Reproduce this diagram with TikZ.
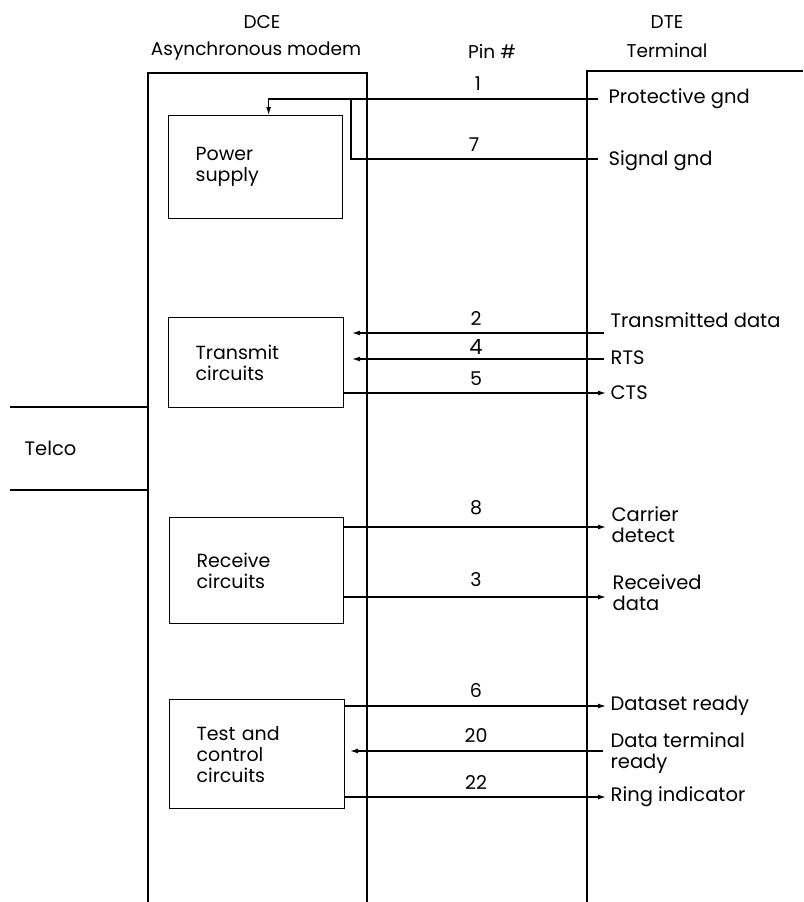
\documentclass[tikz,border=0pt]{standalone}
\usepackage{fontspec}
\setmainfont{Poppins}
\usetikzlibrary{arrows.meta}
\begin{document}
\begin{tikzpicture}[x=1pt,y=-1pt,line width=1.3pt,
    blk/.style={draw,anchor=north west,align=left,inner xsep=27pt,inner ysep=0pt,font=\fontsize{19}{21}\selectfont},
    sig/.style={-{Latex[length=8pt,width=5pt]}},
    pin/.style={font=\fontsize{19}{20}\selectfont},
    head/.style={font=\fontsize{18.5}{20}\selectfont},
    lbl/.style={anchor=west,align=left,inner sep=0pt,font=\fontsize{19.5}{21}\selectfont}]
    \useasboundingbox (0,0) rectangle (803,902);

    % headings
    \node[head] (dce) at (262,22) {DCE};
    \node[head] (modem) at (256,51) {Asynchronous modem};
    \node[head] (pins) at (492,51) {Pin \#};
    \node[head] (dte) at (667,22) {DTE};
    \node[head] (term) at (667,51) {Terminal};

    % modem and terminal outlines
    \draw (148,902) -- (148,73) -- (367,73) -- (367,902);
    \draw (587,902) -- (587,71) -- (803,71);

    % telco line
    \draw (10,407) -- (148,407);
    \draw (10,490) -- (148,490);
    \node[lbl] (telco) at (24,448) {Telco};

    % blocks
    \node[blk,minimum width=174,minimum height=103,text width=120] (psu) at (168,115) {Power\\supply};
    \node[blk,minimum width=175,minimum height=90,text width=121] (tx) at (168,317) {Transmit\\circuits\\[-12pt]};
    \node[blk,minimum width=174,minimum height=106,text width=120] (rx) at (169,517) {Receive\\circuits};
    \node[blk,minimum width=175,minimum height=109,text width=121] (tc) at (169,699) {Test and\\control\\circuits};

    % terminal side
    \node[lbl] (pgnd) at (608,99) {Protective gnd};
    \node[lbl] (sgnd) at (608,161) {Signal gnd};
    \node[lbl] (txd) at (610,320) {Transmitted data};
    \node[lbl] (rts) at (610,358) {RTS};
    \node[lbl] (cts) at (610,393) {CTS};
    \node[lbl] (cd) at (611,525) {Carrier\\detect};
    \node[lbl] (rxd) at (612,593) {Received\\data};
    \node[lbl] (dsr) at (610,706) {Dataset ready};
    \node[lbl] (dtr) at (610,753) {Data terminal\\ready};
    \node[lbl] (ri) at (610,797) {Ring indicator};

    % ground wiring
    \coordinate (e1) at (598,99);
    \coordinate (e7) at (598,159);
    \coordinate (j1) at (351,99);
    \draw[sig] (e1) -| ([xshift=13pt]psu.north);
    \draw (e7) -| (j1);

    % signal ends
    \coordinate (e2) at (604,333);
    \coordinate (e4) at (604,359);
    \coordinate (a2) at (352,333);
    \coordinate (a4) at (352,359);
    \coordinate (e5) at (606,393);
    \coordinate (e8) at (606,527);
    \coordinate (e3) at (606,597);
    \coordinate (e6) at (606,706);
    \coordinate (e20) at (603,751);
    \coordinate (a20) at (350,751);
    \coordinate (e22) at (606,797);

    \draw[sig] (e2) -- (a2);
    \draw[sig] (e4) -- (a4);
    \draw[sig] (tx.east |- e5) -- (e5);
    \draw[sig] (rx.east |- e8) -- (e8);
    \draw[sig] (rx.east |- e3) -- (e3);
    \draw[sig] (tc.east |- e6) -- (e6);
    \draw[sig] (e20) -- (a20);
    \draw[sig] (tc.east |- e22) -- (e22);

    % pin numbers
    \node[pin] at (478,84) {1};
    \node[pin] at (474,145) {7};
    \node[pin] at (476,319) {2};
    \node[pin,font=\fontsize{21}{22}\selectfont] at (476,347) {4};
    \node[pin] at (476,379) {5};
    \node[pin] at (476,508) {8};
    \node[pin] at (476,580) {3};
    \node[pin] at (476,690) {6};
    \node[pin] at (476,735) {20};
    \node[pin] at (476,782) {22};
\end{tikzpicture}
\end{document}
